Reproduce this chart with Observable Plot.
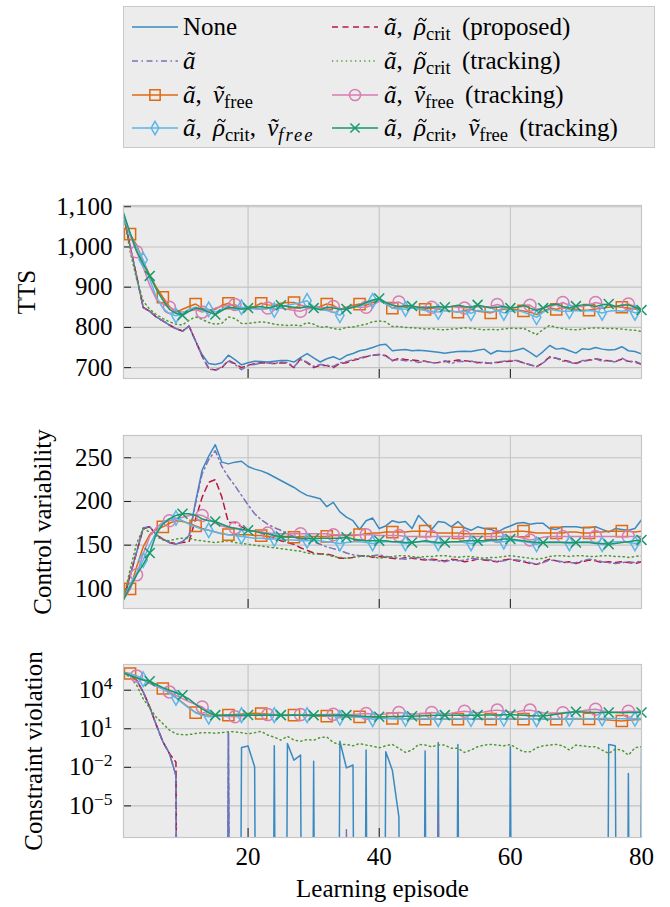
<!DOCTYPE html>
<html><head><meta charset="utf-8">
<script src="https://cdn.jsdelivr.net/npm/d3@7"></script>
<script src="https://cdn.jsdelivr.net/npm/@observablehq/plot@0.6"></script>
<style>
html,body{margin:0;padding:0;background:#fff;}
#wrap{position:relative;width:670px;height:907px;font-family:"Liberation Serif","Times New Roman",serif;color:#000;overflow:hidden;}
.panel{position:absolute;left:0;}
#lgbox{position:absolute;left:123px;top:6px;width:532px;height:142px;box-sizing:border-box;background:#ececec;border:1px solid #c9c9c9;}
.lgs{position:absolute;overflow:visible;}
.lgt{position:absolute;font-size:25px;line-height:30px;white-space:nowrap;word-spacing:5px;}
.lgt sub{font-size:0.74em;vertical-align:-0.28em;line-height:0;}
.lgt i{font-style:italic;}
.sp{letter-spacing:2px;}
.tl{position:relative;display:inline-block;}
.tl .acs{position:absolute;left:4px;top:5px;overflow:visible;}
</style></head>
<body><div id="wrap"><div id="lgbox"></div></div>
<script>
// ---------- data ----------
const episodes = Array.from({length: 80}, (_, i) => i + 1);

// TTS
const tts_none = [1080,1003,927,850,840,826,816,806,797,791, 803,766,732,710,708,712,731,720,707,712,
 716,715,714,716,718,718,714,725,735,724, 714,722,727,720,730,735,742,745,750,756,
 758,742,744,745,742,743,742,740,738,736, 738,740,741,740,743,746,734,742,740,740,
 744,748,738,727,740,755,746,748,742,736, 747,745,750,746,744,745,752,742,740,734];
const tts_prop = [1080,1003,927,850,840,826,816,806,797,791, 803,766,728,698,694,700,718,710,700,706,
 710,712,711,710,712,711,700,722,712,700, 706,705,700,710,712,718,722,727,731,732,
 730,717,723,720,719,717,716,712,713,715, 716,719,717,715,713,712,711,713,715,716,
 717,712,707,702,712,727,723,719,715,711, 716,719,722,719,717,715,721,716,714,708];
const tts_a = [1080,1003,927,850,840,826,816,806,797,791, 803,766,728,697,693,702,716,708,695,705,
 708,711,712,710,714,713,702,720,714,703, 708,706,703,712,715,720,724,728,731,733,
 729,718,720,717,717,713,716,713,712,717, 710,716,715,717,711,714,710,714,716,718,
 718,712,707,703,712,725,724,716,714,709, 718,717,722,716,718,714,724,714,716,709];
const tts_track = [1080,990,920,866,845,832,822,814,808,806, 818,826,820,812,808,810,826,822,810,810,
 812,814,812,808,806,805,806,804,812,808, 800,802,797,795,800,801,805,808,814,816,
 814,802,802,800,799,798,796,797,795,794, 796,797,799,798,796,794,795,794,796,798,
 797,798,790,782,795,805,800,797,795,794, 796,798,799,798,797,797,796,794,793,790];
const tts_av = [1080,1032,1005,965,930,900,875,852,838,845, 852,858,848,840,845,855,860,852,848,850,
 852,860,856,855,860,862,862,855,852,848, 852,858,855,845,850,855,858,855,862,868,
 860,848,852,850,848,846,845,848,846,842, 840,838,842,845,840,838,836,842,845,846,
 844,841,838,832,840,848,845,848,846,845, 842,843,846,848,850,852,850,848,846,842];
const tts_avt = [1080,1030,988,950,905,870,858,850,842,838, 840,845,838,842,848,852,855,857,848,845,
 848,846,848,846,848,845,842,840,846,848, 850,848,852,845,848,852,850,850,856,865,
 862,858,863,855,852,850,852,850,848,850, 852,850,848,850,852,850,852,857,852,848,
 850,852,855,845,848,852,856,862,855,852, 852,856,862,858,855,852,855,858,852,846];
const tts_arv = [1080,1030,1000,968,920,875,848,834,829,835, 845,850,842,845,838,845,852,845,850,848,
 846,845,850,843,850,855,858,862,866,852, 845,842,838,830,845,850,852,860,866,868,
 858,848,845,846,848,845,842,840,838,842, 840,838,840,835,842,840,838,842,836,840,
 842,838,832,825,838,845,842,840,840,842, 840,842,840,836,840,842,840,842,836,840];
const tts_arvt = [1085,1035,990,958,928,895,868,845,835,830, 840,848,845,838,832,842,850,848,845,848,
 850,852,848,852,855,852,850,848,852,848, 844,850,848,845,846,850,855,862,868,872,
 862,855,852,854,853,850,848,850,852,850, 852,855,852,850,856,852,848,850,852,848,
 850,855,848,842,848,855,858,852,848,853, 856,855,852,856,858,852,855,856,850,843];

// Control variability
const cv_none = [88,115,142,169,171,162,157,153,151,154, 161,200,236,252,265,245,243,245,246,240,
 237,235,232,228,224,220,216,211,207,205, 203,194,199,188,182,178,168,178,181,169,
 172,178,176,177,169,184,176,168,177,176, 171,177,170,167,171,169,168,165,169,172,
 175,176,174,175,175,169,168,171,171,171, 170,170,171,168,165,169,168,167,169,179];
const cv_prop = [88,115,142,169,171,162,157,153,152,153, 154,180,205,222,225,205,176,176,171,167,
 166,165,160,158,155,153,151,147,144,141, 140,140,138,135,135,136,138,138,136,137,
 136,135,134,136,135,134,133,134,133,132, 134,133,131,132,134,133,132,131,133,134,
 132,131,129,128,131,134,132,130,131,129, 131,133,132,130,131,130,131,130,129,131];
const cv_a = [88,115,142,170,171,162,157,153,151,154, 160,198,232,248,258,240,228,218,207,196,
 186,179,174,170,167,163,160,158,156,154, 151,148,146,144,141,139,138,137,138,139,
 137,136,135,134,135,136,134,133,132,131, 133,132,133,135,134,134,133,131,132,134,
 133,132,130,128,130,133,132,131,130,130, 132,134,133,131,130,129,130,131,130,132];
const cv_track = [88,122,152,169,165,160,156,155,157,158, 158,156,155,154,153,154,155,153,152,151,
 150,149,148,147,146,145,144,143,141,140, 140,139,137,136,135,136,137,138,137,135,
 136,137,138,138,137,136,137,137,138,138, 137,136,137,137,136,135,136,136,137,138,
 137,136,135,134,135,137,138,138,137,138, 138,137,137,138,138,137,137,136,137,138];
const cv_av = [88,100,125,148,162,168,171,175,178,177, 175,172,169,167,165,163,162,162,162,162,
 161,161,160,160,159,159,159,160,160,160, 160,160,161,161,161,161,162,163,164,164,
 165,165,165,165,166,166,166,165,164,164, 164,164,163,163,163,163,163,164,165,165,
 166,166,165,164,164,164,164,164,165,165, 164,164,165,165,166,166,166,166,165,166];
const cv_avt = [88,100,116,140,160,170,176,178,180,182, 184,185,184,180,175,172,170,170,168,167,
 166,165,164,163,163,163,163,163,163,163, 163,163,162,162,162,162,162,162,162,161,
 161,161,161,160,160,160,160,160,160,160, 160,160,160,160,160,160,160,160,160,160,
 160,158,156,157,159,160,160,160,160,160, 160,160,160,160,160,160,160,160,160,160];
const cv_arv = [88,105,118,133,150,165,176,180,181,178, 174,171,168,167,165,163,162,161,160,159,
 158,158,157,157,157,156,156,155,155,155, 155,154,153,152,153,154,154,153,152,153,
 154,154,153,152,153,154,154,153,152,153, 154,154,153,152,153,154,155,154,154,155,
 155,154,153,151,153,154,154,153,152,153, 154,154,153,151,153,154,154,153,152,153];
const cv_arvt = [88,102,116,128,141,163,174,180,184,186, 186,184,180,178,177,174,171,169,168,167,
 166,164,163,161,160,160,159,158,158,157, 158,158,158,158,159,157,156,155,155,155,
 155,154,154,153,153,154,155,154,153,153, 154,154,155,155,155,155,156,156,157,157,
 156,155,154,153,153,153,153,153,153,153, 153,153,152,152,151,152,153,154,155,156];

// Constraint violation (0 = no violation)
const cvio_none = [2.3e5,1.6e5,6e4,7.4e3,5e2,2e1,1.0,0.12,2.2e-3,0, 0,0,0,0,0,0,5.1,0,0.35,0.45,
 0.011,0,0,0.47,0,0.7,0.036,0.09,0,0.03, 0,0,0,1.07,0.009,0.015,0,0.22,0,0,
 0.16,0.006,1.4e-6,0,0,0,0.19,0,0.85,0, 0,0.6,0,0,0,0,0,0,0,0.4,
 0,0,0,0,0,0,0,0,0,0, 0,0,0,0,0.6,0.47,0,0.0033,0,0.4];
const cvio_prop = [2.3e5,1.6e5,6e4,7.4e3,5e2,2e1,1.0,0.12,0.025,0, 0,0,0,0,0,0,0,0,0,0,
 0,0,0,0,0,0,0,0,0,0, 0,0,0,0,0,0,0,0,0,0,
 0,0,0,0,0,0,0,0,0,0, 0,0,0,0,0,0,0,0,0,0,
 0,0,0,0,0,0,0,0,0,0, 0,0,0,0,0,0,0,0,0,0];
const cvio_a = [2.3e5,1.6e5,6e4,7.4e3,5e2,2e1,1.0,0.12,2.2e-3,0, 0,0,0,0,0,0,5.1,0,0,0,
 0,0,0,0,0,0,0,0,0,0, 0,0,0,0,1.6e-7,0,0,0,0,0,
 0,0,0,0,0,0,0,0,2.5e-6,0, 0,0,0,0,0,0,0,0,0,0,
 0,0,0,0,0,0,0,0,0,0, 0,0,0,0,0,0,0,0,0,0];
const cvio_track = [2.3e5,1.0e5,2.5e4,2.2e3,400,79,25,7.9,4.0,3.5, 3.5,4.3,5.0,5.0,4.5,5.0,5.8,5.8,5.0,4.0,
 5.0,6.3,3.2,2.2,1.3,2.6,1.3,1.07,1.45,1.26, 2.1,2.3,0.85,0.6,0.6,0.47,0.71,0.54,0.45,0.33,
 0.47,0.6,0.3,0.145,0.22,0.6,0.54,0.4,0.54,0.54, 0.3,0.3,0.145,0.22,0.4,0.54,0.6,0.54,0.47,0.6,
 0.3,0.16,0.16,0.33,0.47,0.54,0.6,0.47,0.22,0.54, 0.47,0.4,0.4,0.22,0.12,0.26,0.22,0.09,0.33,0.4];
const cvio_av = [2.3e5,2.0e5,1.1e5,6.3e4,3.5e4,2.2e4,1.35e4,7.1e3,2.8e3,1.1e3, 450,182,132,120,112,115,115,126,141,151,
 158,155,141,126,120,117,115,112,107,100, 95,95,93,89,87,85,85,79,74,71,
 66,63,62,60,59,58,56,57,58,57, 56,56,57,58,57,56,56,57,58,57,
 56,56,57,58,57,56,56,57,58,58, 57,58,56,52,48,43,40,45,50,53];
const cvio_avt = [2.3e5,1.8e5,1.3e5,7.1e4,3.5e4,2.0e4,1.26e4,7.4e3,4.0e3,2.2e3, 1.26e3,794,501,200,112,95,89,85,100,112,
 120,126,126,120,115,115,120,126,120,115, 120,126,132,126,120,126,141,155,141,126,
 141,166,182,158,141,141,158,182,158,141, 158,200,234,200,178,200,251,282,240,200,
 214,263,282,224,178,158,166,174,200,224, 251,302,331,251,200,200,214,234,224,224];
const cvio_arv = [2.3e5,1.8e5,1.26e5,7.1e4,4.0e4,2.2e4,1.26e4,5.6e3,2.5e3,1.0e3, 400,178,112,85,95,105,110,112,115,115,
 112,110,112,115,112,110,112,114,115,112, 110,105,98,71,83,89,79,71,56,63,
 62,60,58,60,62,63,61,59,56,60, 62,61,59,57,60,62,63,61,60,62,
 64,61,58,56,60,62,61,59,60,62, 63,61,60,63,64,62,61,60,59,62];
const cvio_arvt = [2.3e5,1.4e5,8.9e4,6.3e4,5.0e4,2.8e4,1.6e4,1.0e4,6.3e3,4.0e3, 2.0e3,794,355,178,115,112,118,115,113,117,
 115,116,114,118,115,113,116,115,117,114, 116,115,113,116,115,105,98,92,88,85,
 87,90,92,93,95,100,105,108,112,115, 114,112,113,115,115,116,118,120,123,126,
 120,112,105,101,100,115,135,160,185,209, 200,195,188,184,182,182,180,181,182,182];

// tick labels
const ttsTicks = [700, 800, 900, 1000, 1100];
const cvTicks = [100, 150, 200, 250];
const vioTicks = [1e-5, 1e-2, 1e1, 1e4];
const xTicks = [20, 40, 60, 80];

// ---------- styles ----------
const series = [
  {key: "none",  color: "#3a8ac2", dash: null},
  {key: "prop",  color: "#b8173f", dash: "6,4.5"},
  {key: "a",     color: "#7f6db7", dash: "6,3.5,1.5,3.5"},
  {key: "track", color: "#4f9a32", dash: "1.3,3.3"},
  {key: "av",    color: "#e06a10", symbol: "square",  r: 6.3, off: 2},
  {key: "avt",   color: "#d77db3", symbol: "circle",  r: 6.0, off: 3},
  {key: "arv",   color: "#5db6ea", symbol: "diamond", r: 4.4, off: 4},
  {key: "arvt",  color: "#17996b", symbol: "times",   r: 4.6, off: 5}
];

const panelsData = {
  tts: {none: tts_none, prop: tts_prop, a: tts_a, track: tts_track, av: tts_av, avt: tts_avt, arv: tts_arv, arvt: tts_arvt},
  cv: {none: cv_none, prop: cv_prop, a: cv_a, track: cv_track, av: cv_av, avt: cv_avt, arv: cv_arv, arvt: cv_arvt},
  vio: {none: cvio_none, prop: cvio_prop, a: cvio_a, track: cvio_track, av: cvio_av, avt: cvio_avt, arv: cvio_arv, arvt: cvio_arvt}
};

const W = 670, ML = 123, MR = 29, PH = 173, MT = 10;
const PW = W - ML - MR;
const gridColor = "#c3c3c3";
const FONT = "'Liberation Serif', 'Times New Roman', serif";

function makePanel({data, yType, yDomain, yTicks, yFormat, title, titleDx, showX, top}) {
  const mb = showX ? 70 : 10;
  const isLog = yType === "log";
  const yv = d => (isLog && d.v === 0) ? 1e-100 : d.v;
  const marks = [
    Plot.frame({fill: "#ebebeb", stroke: null}),
    Plot.gridX({ticks: [20, 40, 60], stroke: gridColor, strokeOpacity: 1, strokeWidth: 1.1}),
    Plot.gridY({ticks: yTicks, stroke: gridColor, strokeOpacity: 1, strokeWidth: 1.1}),
    Plot.tickX(xTicks, {x: d => d, insetTop: PH - 9, stroke: "#1a1a1a", strokeWidth: 1}),
    Plot.tickY(yTicks, {y: d => d, insetRight: PW - 8, stroke: "#1a1a1a", strokeWidth: 1})
  ];
  for (const s of series) {
    const rows = episodes.map((ep, i) => ({ep, v: data[s.key][i]}));
    marks.push(Plot.line(rows, {x: "ep", y: yv, stroke: s.color, strokeWidth: 1.5,
      strokeDasharray: s.dash || undefined, clip: true}));
    if (s.symbol) {
      const pts = rows.filter(d => (d.ep - s.off) % 5 === 0 && d.ep >= s.off);
      marks.push(Plot.dot(pts, {x: "ep", y: yv, symbol: s.symbol, r: s.r, stroke: s.color, fill: "none", strokeWidth: 1.5}));
    }
  }
  marks.push(Plot.frame({stroke: "#c6c6c6", strokeWidth: 1.2}));
  marks.push(Plot.axisY({ticks: yTicks, tickSize: 0, tickPadding: 11, tickFormat: yFormat, label: null}));
  marks.push(Plot.text([title], {frameAnchor: "left", rotate: -90, dx: titleDx, text: d => d,
    fontSize: 25, textAnchor: "middle", lineAnchor: "middle"}));
  if (showX) {
    marks.push(Plot.axisX({ticks: xTicks, tickSize: 0, tickPadding: 10, tickFormat: d3.format("d"), label: null}));
    marks.push(Plot.text(["Learning episode"], {frameAnchor: "bottom", dy: 51, text: d => d,
      fontSize: 25, textAnchor: "middle", lineAnchor: "middle"}));
  }
  const svg = Plot.plot({
    width: W, height: MT + PH + mb,
    marginLeft: ML, marginRight: MR, marginTop: MT, marginBottom: mb,
    x: {domain: [1, 80], axis: null},
    y: {type: yType, domain: yDomain, axis: null},
    style: {fontFamily: FONT, fontSize: "25px", background: "transparent", color: "#000", overflow: "visible"},
    marks
  });
  svg.classList.add("panel");
  svg.style.top = (top - MT) + "px";
  document.getElementById("wrap").appendChild(svg);
  return svg;
}

makePanel({data: panelsData.tts, yType: "linear", yDomain: [673, 1103], yTicks: ttsTicks,
  yFormat: d3.format(","), title: "TTS", titleDx: -97, showX: false, top: 205});
makePanel({data: panelsData.cv, yType: "linear", yDomain: [77.5, 275.5], yTicks: cvTicks,
  yFormat: d3.format("d"), title: "Control variability", titleDx: -81, showX: false, top: 435});
const supMap = {"-": "⁻", "0": "⁰", "1": "¹", "2": "²", "3": "³", "4": "⁴", "5": "⁵"};
const svg3 = makePanel({data: panelsData.vio, yType: "log", yDomain: [Math.pow(10, -7.46), Math.pow(10, 6.0)], yTicks: vioTicks,
  yFormat: d => "10" + String(Math.round(Math.log10(d))).split("").map(c => supMap[c]).join(""),
  title: "Constraint violation", titleDx: -90, showX: true, top: 664});

// superscript exponents as tspans
const unSup = {"⁻": "−", "⁰": "0", "¹": "1", "²": "2", "³": "3", "⁴": "4", "⁵": "5"};
svg3.querySelectorAll('g[aria-label="y-axis tick label"] text').forEach(t => {
  const txt = t.textContent;
  if (!txt.startsWith("10")) return;
  const exp = txt.slice(2).split("").map(c => unSup[c] || c).join("");
  const ns = "http://www.w3.org/2000/svg";
  t.textContent = "";
  const a = document.createElementNS(ns, "tspan"); a.textContent = "10";
  const b = document.createElementNS(ns, "tspan"); b.textContent = exp;
  b.setAttribute("font-size", "17.5"); b.setAttribute("dy", "-9");
  t.appendChild(a); t.appendChild(b);
});

// ---------- legend ----------
// tilde accent over rho drawn as a small path (not text)
const RHO = '<i class="tl">ρ<svg class="acs" width="9" height="5" viewBox="0 0 9 5"><path d="M0.6,3.8 C1.8,0.8 3.4,0.8 4.5,2.5 C5.6,4.2 7.2,4.2 8.4,1.2" fill="none" stroke="#000" stroke-width="1.1"/></svg></i>';
const legendLabels = {
  none: "None",
  prop: `<i>ã</i>, ${RHO}<sub>crit</sub> (proposed)`,
  a: "<i>ã</i>",
  track: `<i>ã</i>, ${RHO}<sub>crit</sub> (tracking)`,
  av: "<i>ã</i>, <i>ṽ</i><sub>free</sub>",
  avt: "<i>ã</i>, <i>ṽ</i><sub>free</sub> (tracking)",
  arv: `<i>ã</i>, ${RHO}<sub>crit</sub>, <i>ṽ</i><sub><i class="sp">free</i></sub>`,
  arvt: `<i>ã</i>, ${RHO}<sub>crit</sub>, <i>ṽ</i><sub>free</sub> (tracking)`
};
const legendLayout = [["none", 0, 0], ["prop", 1, 0], ["a", 0, 1], ["track", 1, 1], ["av", 0, 2], ["avt", 1, 2], ["arv", 0, 3], ["arvt", 1, 3]];
const colSample = [132, 332], colText = [183, 384], rowY = [27, 61, 94.5, 128];
const symMap = {square: d3.symbolSquare, circle: d3.symbolCircle, diamond: d3.symbolDiamond, times: d3.symbolTimes};
const wrap = document.getElementById("wrap");
for (const [key, c, r] of legendLayout) {
  const s = series.find(d => d.key === key);
  const sw = 46, sh = 22;
  let svgStr = `<svg class="lgs" width="${sw}" height="${sh}" style="left:${colSample[c]}px;top:${rowY[r] - sh / 2}px">` +
    `<line x1="0" x2="${sw}" y1="${sh / 2}" y2="${sh / 2}" stroke="${s.color}" stroke-width="1.5"${s.dash ? ` stroke-dasharray="${s.dash}"` : ""}/>`;
  if (s.symbol) {
    const p = d3.symbol(symMap[s.symbol], Math.PI * s.r * s.r * 0.85)();
    svgStr += `<path d="${p}" transform="translate(${sw / 2},${sh / 2})" fill="none" stroke="${s.color}" stroke-width="1.5"/>`;
  }
  svgStr += "</svg>";
  wrap.insertAdjacentHTML("beforeend", svgStr);
  const t = document.createElement("div");
  t.className = "lgt";
  t.style.left = colText[c] + "px";
  t.style.top = (rowY[r] - 15) + "px";
  t.innerHTML = legendLabels[key];
  wrap.appendChild(t);
}
</script></body></html>
